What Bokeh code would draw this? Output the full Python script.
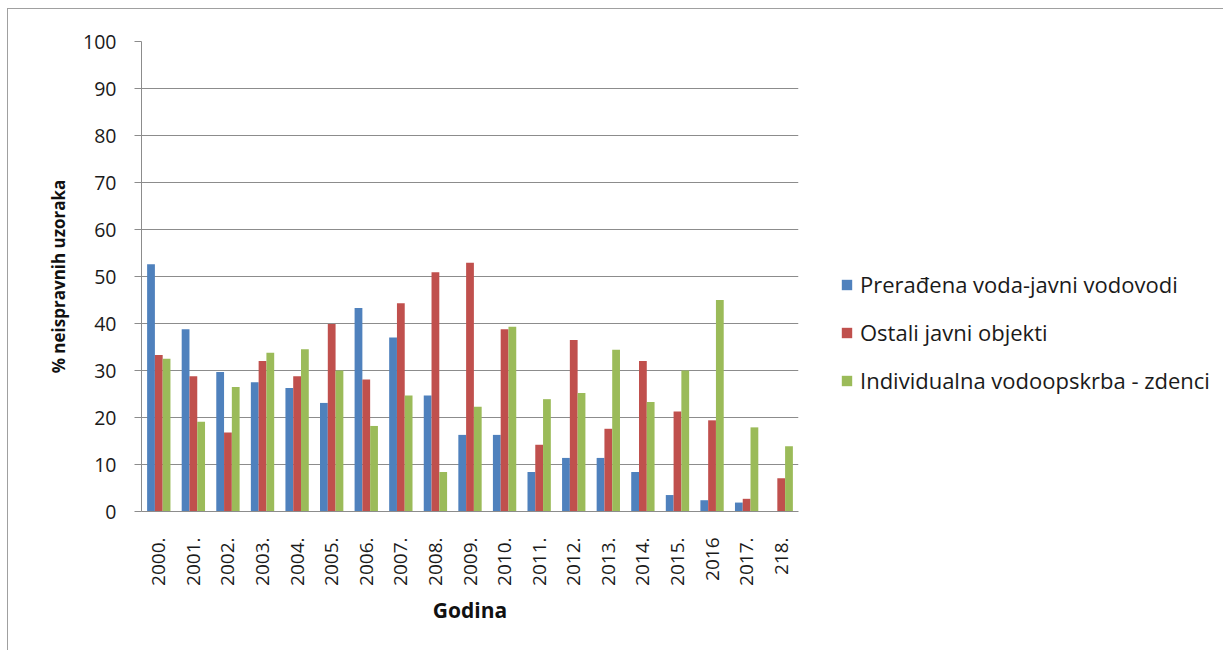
import math
from bokeh.plotting import figure
from bokeh.models import ColumnDataSource, Legend, LegendItem, FixedTicker, Range1d
from bokeh.transform import dodge
from bokeh.embed import file_html
from bokeh.resources import INLINE

years = ["2000.", "2001.", "2002.", "2003.", "2004.", "2005.", "2006.", "2007.", "2008.", "2009.",
         "2010.", "2011.", "2012.", "2013.", "2014.", "2015.", "2016", "2017.", "218."]
preradjena = [52.6, 38.8, 29.7, 27.5, 26.3, 23.1, 43.3, 37.0, 24.7, 16.3,
              16.3, 8.4, 11.4, 11.4, 8.4, 3.5, 2.4, 1.9, 0.0]
ostali = [33.3, 28.8, 16.8, 32.0, 28.8, 39.9, 28.1, 44.3, 50.9, 52.9,
          38.8, 14.2, 36.5, 17.6, 32.0, 21.3, 19.4, 2.7, 7.1]
individualna = [32.5, 19.1, 26.5, 33.8, 34.5, 30.0, 18.2, 24.7, 8.4, 22.3,
                39.3, 23.9, 25.2, 34.4, 23.3, 30.0, 45.0, 17.9, 13.9]
series_names = ["Prerađena voda-javni vodovodi", "Ostali javni objekti", "Individualna vodoopskrba - zdenci"]
colors = ["#4F81BD", "#C0504D", "#9BBB59"]
y_ticks = [0, 10, 20, 30, 40, 50, 60, 70, 80, 90, 100]

src = ColumnDataSource(dict(year=years, a=preradjena, b=ostali, c=individualna))

p = figure(x_range=years, y_range=Range1d(0, 100), frame_width=657, frame_height=470,
           output_backend="svg", toolbar_location=None,
           min_border_left=133, min_border_right=0,
           min_border_top=32, min_border_bottom=140)
p.styles = {"margin-left": "7px", "margin-top": "8px",
            "border-left": "1px solid #a0a0a0", "border-top": "1px solid #a0a0a0"}
p.outline_line_color = None
p.background_fill_color = "white"
p.border_fill_color = "white"

bw = 0.225
renderers = []
for key, off, col in zip(["a", "b", "c"], [-bw, 0.0, bw], colors):
    r = p.vbar(x=dodge("year", off, range=p.x_range), top=key, width=bw, source=src,
               fill_color=col, line_color=None)
    renderers.append(r)

font = "Open Sans"
grid_col = "#8c8c8c"

p.xgrid.grid_line_color = None
p.ygrid.grid_line_color = grid_col
p.ygrid.grid_line_width = 1

p.yaxis.ticker = FixedTicker(ticks=y_ticks)
p.yaxis.minor_tick_line_color = None
p.yaxis.major_tick_out = 7
p.yaxis.major_tick_in = 0
p.yaxis.major_tick_line_color = grid_col
p.yaxis.axis_line_color = grid_col
p.yaxis.major_label_text_font = font
p.yaxis.major_label_text_font_size = "19.5px"
p.yaxis.major_label_text_color = "#1a1a1a"
p.yaxis.major_label_standoff = 18
p.yaxis.axis_label = "% neispravnih uzoraka"
p.yaxis.axis_label_text_font = font
p.yaxis.axis_label_text_font_style = "bold"
p.yaxis.axis_label_text_font_size = "17px"
p.yaxis.axis_label_text_color = "#111111"
p.yaxis.axis_label_standoff = 10

p.xaxis.major_label_orientation = math.pi / 2
p.xaxis.major_tick_out = 0
p.xaxis.major_tick_in = 0
p.xaxis.axis_line_color = grid_col
p.xaxis.major_label_text_font = font
p.xaxis.major_label_text_font_size = "19px"
p.xaxis.major_label_text_color = "#1a1a1a"
p.xaxis.major_label_standoff = 26
p.xaxis.axis_label = "Godina"
p.xaxis.axis_label_text_font = font
p.xaxis.axis_label_text_font_style = "bold"
p.xaxis.axis_label_text_font_size = "21px"
p.xaxis.axis_label_text_color = "#111111"
p.xaxis.axis_label_standoff = 7

items = [LegendItem(label=n, renderers=[r]) for n, r in zip(series_names, renderers)]
legend = Legend(items=items, location=(42, 116), orientation="vertical",
                glyph_width=13, glyph_height=13, label_height=28, spacing=18,
                label_standoff=7, padding=0, margin=0,
                border_line_color=None, background_fill_alpha=0,
                label_text_font=font, label_text_font_size="22px",
                label_text_color="#1a1a1a")
p.add_layout(legend, "right")

open("out.html", "w").write(file_html(p, INLINE))
